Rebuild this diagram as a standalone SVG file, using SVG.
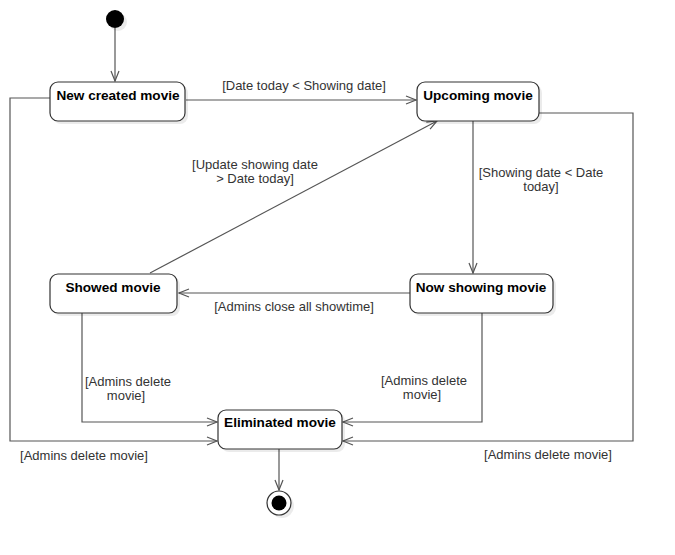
<svg xmlns="http://www.w3.org/2000/svg" width="675" height="555" viewBox="0 0 675 555">
<style>
.box{fill:#fff;stroke:#333;stroke-width:1.2}
.sh{fill:#000;opacity:0.08}
.name{font-family:"Liberation Sans",Arial,sans-serif;font-size:13.6px;font-weight:bold;fill:#000;text-anchor:middle}
.lbl{font-family:"Liberation Sans",Arial,sans-serif;font-size:13px;fill:#333;text-anchor:middle}
.edge{fill:none;stroke:#555;stroke-width:1.2}
</style>
<defs>
<marker id="arr" viewBox="0 0 12 10" refX="11" refY="5" markerWidth="12" markerHeight="10" markerUnits="userSpaceOnUse" orient="auto">
<path d="M1,1 L11,5 L1,9" fill="none" stroke="#555" stroke-width="1.2"/>
</marker>
</defs>
<rect width="675" height="555" fill="#fff"/>
<g id="connectors">
<path class="edge" d="M115,28 V81" marker-end="url(#arr)"/>
<path class="edge" d="M186,100 H416" marker-end="url(#arr)"/>
<path class="edge" d="M473,121 V273" marker-end="url(#arr)"/>
<path class="edge" d="M539,113 H633 V441 H343" marker-end="url(#arr)"/>
<path class="edge" d="M410,293 H179" marker-end="url(#arr)"/>
<path class="edge" d="M150,273 L437,121" marker-end="url(#arr)"/>
<path class="edge" d="M82,313 V422 H217" marker-end="url(#arr)"/>
<path class="edge" d="M482,313 V422 H343" marker-end="url(#arr)"/>
<path class="edge" d="M50,98 H10 V441 H217" marker-end="url(#arr)"/>
<path class="edge" d="M279,449 V490" marker-end="url(#arr)"/>
<text class="lbl" x="304" y="90">[Date today &lt; Showing date]</text>
<text class="lbl" y="177"><tspan x="541">[Showing date &lt; Date</tspan><tspan x="541" dy="14">today]</tspan></text>
<text class="lbl" y="169"><tspan x="255">[Update showing date</tspan><tspan x="255" dy="14">&gt; Date today]</tspan></text>
<text class="lbl" x="294" y="311">[Admins close all showtime]</text>
<text class="lbl" y="386"><tspan x="128">[Admins delete</tspan><tspan x="126" dy="14">movie]</tspan></text>
<text class="lbl" y="385"><tspan x="424">[Admins delete</tspan><tspan x="422" dy="14">movie]</tspan></text>
<text class="lbl" x="84" y="460">[Admins delete movie]</text>
<text class="lbl" x="548" y="459">[Admins delete movie]</text>
</g>
<g id="initial">
<circle cx="118" cy="22" r="9" class="sh"/>
<circle cx="115" cy="19" r="9" fill="#000"/>
</g>
<g id="new-created-movie">
<rect x="53" y="85" width="135" height="39" rx="8" class="sh"/>
<rect x="50" y="82" width="135" height="39" rx="8" class="box"/>
<text class="name" x="118" y="100">New created movie</text>
</g>
<g id="upcoming-movie">
<rect x="420" y="85" width="122" height="39" rx="8" class="sh"/>
<rect x="417" y="82" width="122" height="39" rx="8" class="box"/>
<text class="name" x="478" y="100">Upcoming movie</text>
</g>
<g id="showed-movie">
<rect x="53" y="277" width="127" height="39" rx="8" class="sh"/>
<rect x="50" y="274" width="127" height="39" rx="8" class="box"/>
<text class="name" x="113" y="292">Showed movie</text>
</g>
<g id="now-showing-movie">
<rect x="413" y="277" width="143" height="39" rx="8" class="sh"/>
<rect x="410" y="274" width="143" height="39" rx="8" class="box"/>
<text class="name" x="481" y="292">Now showing movie</text>
</g>
<g id="eliminated-movie">
<rect x="221" y="413" width="124" height="39" rx="8" class="sh"/>
<rect x="218" y="410" width="124" height="39" rx="8" class="box"/>
<text class="name" x="280" y="427">Eliminated movie</text>
</g>
<g id="final">
<circle cx="282" cy="506" r="12" class="sh"/>
<circle cx="279" cy="503" r="12" fill="#fff" stroke="#333" stroke-width="1.2"/>
<circle cx="279" cy="503" r="7.5" fill="#000"/>
</g>
</svg>
